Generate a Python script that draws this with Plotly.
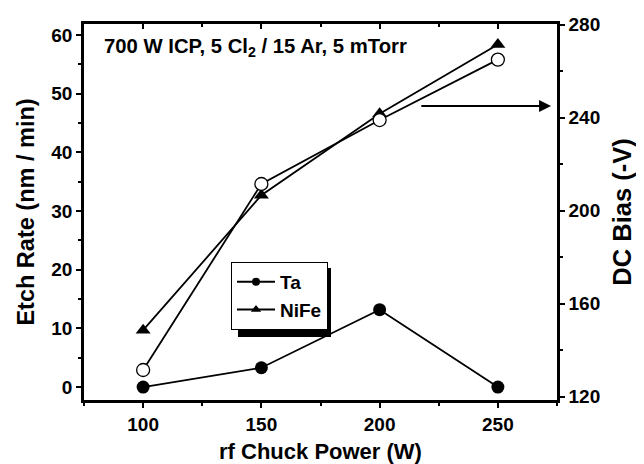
import plotly.graph_objects as go

power = [100, 150, 200, 250]
ta_rate = [0.0, 3.3, 13.2, 0.0]
nife_rate = [9.7, 32.7, 46.6, 58.4]
dc_bias = [131.5, 211.5, 239.0, 265.0]

x_ticks = [100, 150, 200, 250]
left_ticks = [0, 10, 20, 30, 40, 50, 60]
right_ticks = [120, 160, 200, 240, 280]

FONT = "Liberation Sans, Arial, sans-serif"

fig = go.Figure()
fig.add_trace(go.Scatter(x=power, y=ta_rate, name="Ta", mode="lines+markers", showlegend=False,
                         line=dict(color="black", width=1.8),
                         marker=dict(symbol="circle", size=13, color="black")))
fig.add_trace(go.Scatter(x=power, y=nife_rate, name="NiFe", mode="lines+markers", showlegend=False,
                         line=dict(color="black", width=1.8),
                         marker=dict(symbol="triangle-up", size=13, color="black")))
fig.add_trace(go.Scatter(x=power, y=dc_bias, name="DC Bias", mode="lines+markers",
                         yaxis="y2", showlegend=False,
                         line=dict(color="black", width=1.8),
                         marker=dict(symbol="circle", size=13, color="white",
                                     line=dict(color="black", width=1.3))))
# legend-only entries with small symbols (as in the reference legend)
fig.add_trace(go.Scatter(x=[None], y=[None], name="Ta", mode="lines+markers",
                         line=dict(color="black", width=2),
                         marker=dict(symbol="circle", size=8, color="black")))
fig.add_trace(go.Scatter(x=[None], y=[None], name="NiFe", mode="lines+markers",
                         line=dict(color="black", width=2),
                         marker=dict(symbol="triangle-up", size=9, color="black")))

axis_common = dict(showline=True, linecolor="black", linewidth=2.5, showgrid=False,
                   zeroline=False, tickcolor="black", tickwidth=2, automargin=False,
                   tickfont=dict(family=FONT, size=19, color="black", weight="bold"))
minor_common = dict(ticklen=3, tickwidth=2, tickcolor="black")

# the page body has an 8 px margin, so the figure is offset by 8 px
fig.update_layout(
    width=636, height=456,
    margin=dict(l=76, r=87, t=16, b=64),
    paper_bgcolor="white", plot_bgcolor="white",
    font=dict(family=FONT, color="black"),
    xaxis=dict(range=[75, 275], tickvals=x_ticks, ticks="outside", ticklen=5,
               minor=dict(dtick=25, tick0=0, ticks="outside", **minor_common),
               title=dict(text="rf Chuck Power (W)", standoff=11,
                          font=dict(family=FONT, size=22, color="black", weight="bold")),
               **axis_common),
    xaxis2=dict(range=[75, 275], overlaying="x", side="top", tickvals=x_ticks,
                showticklabels=False, ticks="inside", ticklen=5,
                minor=dict(dtick=25, tick0=0, ticks="inside", **minor_common),
                **axis_common),
    yaxis=dict(range=[-2.2, 61.9], tickvals=left_ticks, ticks="outside", ticklen=5,
               minor=dict(dtick=5, tick0=0, ticks="outside", **minor_common),
               title=dict(text="Etch Rate (nm / min)", standoff=11,
                          font=dict(family=FONT, size=23.5, color="black", weight="bold")),
               **axis_common),
    yaxis2=dict(range=[118.6, 280.3], overlaying="y", side="right", tickvals=right_ticks,
                ticks="outside", ticklen=5,
                minor=dict(dtick=20, tick0=0, ticks="outside", **minor_common),
                title=dict(text="DC Bias (-V)", standoff=14,
                           font=dict(family=FONT, size=25.5, color="black", weight="bold")),
                **axis_common),
    legend=dict(x=(231 - 84) / 473, y=(400 - 262) / 376, xanchor="left", yanchor="top",
                bgcolor="white", bordercolor="black", borderwidth=1,
                font=dict(family=FONT, size=19, color="black", weight="bold"),
                itemwidth=38, tracegroupgap=0),
    showlegend=True,
)

# trace bound to the top axis so that it is drawn
fig.add_trace(go.Scatter(x=[None], y=[None], xaxis="x2", showlegend=False, hoverinfo="skip"))

fig.add_annotation(text="700 W ICP, 5 Cl<sub>2</sub> / 15 Ar, 5 mTorr",
                   xref="paper", yref="paper", x=(102 - 84) / 473, y=(400 - 47) / 376,
                   xanchor="left", yanchor="middle", showarrow=False,
                   font=dict(family=FONT, size=20.3, color="black", weight="bold"))

fig.add_annotation(x=272.5, y=245, xref="x", yref="y2",
                   ax=217, ay=245, axref="x", ayref="y2",
                   text="", showarrow=True, arrowhead=2, arrowsize=1.2,
                   arrowwidth=2, arrowcolor="black")

# legend shadow
fig.add_shape(type="rect", xref="paper", yref="paper",
              x0=(238 - 84) / 473, x1=(331 - 84) / 473,
              y0=(400 - 337) / 376, y1=(400 - 268) / 376,
              fillcolor="black", line=dict(width=0), layer="above")

fig.write_html("out.html")
